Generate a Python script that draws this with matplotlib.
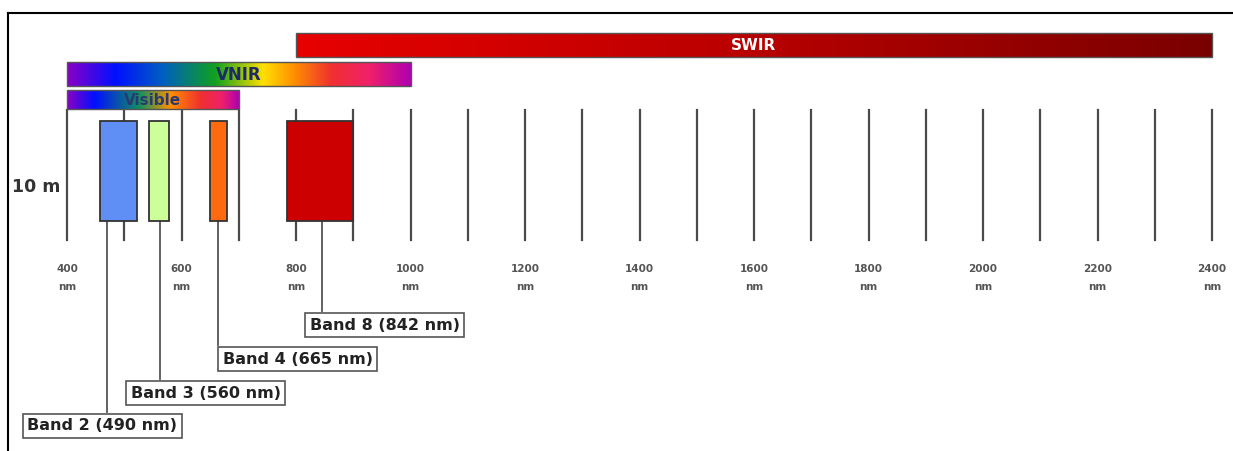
import numpy as np
import matplotlib.pyplot as plt
from matplotlib.colors import LinearSegmentedColormap
from matplotlib.patches import Rectangle
from matplotlib.lines import Line2D

# band data (nm)
band_names = ['Band 2', 'Band 3', 'Band 4', 'Band 8']
band_centers = [490, 560, 665, 842]
band_widths = [65, 35, 30, 115]
band_colors = ['#5f8ff5', '#ccff99', '#ff6a10', '#cc0000']
leader_nm = [470, 562, 664, 845]
label_left_nm = [323, 503, 664, 816]
label_top_px = [412, 379, 345, 311]

# spectral regions
regions = ['SWIR', 'VNIR', 'Visible']
region_start = [800, 400, 400]
region_end = [2400, 1000, 700]

grid_nm = np.arange(400, 2401, 100)
tick_nm = np.arange(400, 2401, 200)

W, H = 1233, 451
px_per_nm = 0.5725
xmin = 400 - 67 / px_per_nm
xmax = 400 + (W - 67) / px_per_nm

fig = plt.figure(figsize=(W / 100, H / 100), dpi=100)
ax = fig.add_axes([0, 0, 1, 1])
ax.axis('off')

# vertical wavelength lines
for g in grid_nm:
    ax.plot([g, g], [110, 240], color='#4a4a4a', lw=1.6, zorder=1)

for t in tick_nm:
    ax.text(t, 269, str(t), ha='center', va='center', fontsize=7.5, fontweight='bold', color='#555555')
    ax.text(t, 287, 'nm', ha='center', va='center', fontsize=7.5, fontweight='bold', color='#555555')

# gradient bars
cmaps = {
    'SWIR': LinearSegmentedColormap.from_list('swir', ['#e80000', '#b80000', '#7a0000']),
    'VNIR': LinearSegmentedColormap.from_list('vnir', [(0, '#8a00c8'), (0.14, '#0010ff'), (0.28, '#0060c0'),
                                                        (0.43, '#10a020'), (0.57, '#ffe000'), (0.66, '#ff9000'),
                                                        (0.77, '#f03030'), (0.88, '#f0206a'), (1, '#b000b0')]),
    'Visible': LinearSegmentedColormap.from_list('vis', [(0, '#8a00c8'), (0.16, '#0010ff'), (0.42, '#109060'),
                                                          (0.6, '#ff9000'), (0.78, '#f03030'), (0.9, '#f0206a'), (1, '#b000b0')]),
}
bar_px = {'SWIR': (33, 57), 'VNIR': (62, 86), 'Visible': (90, 109)}
text_style = {'SWIR': ('white', 11), 'VNIR': ('#1c2a66', 12), 'Visible': ('#2a3a70', 11)}

for name, s, e in zip(regions, region_start, region_end):
    y0, y1 = bar_px[name]
    ax.imshow(np.linspace(0, 1, 256)[None, :], extent=(s, e, y1, y0), cmap=cmaps[name],
              aspect='auto', zorder=2)
    ax.add_patch(Rectangle((s, y0), e - s, y1 - y0, fill=False, ec='#555555', lw=1.0, zorder=3))
    c, fs = text_style[name]
    ax.text((s + e) / 2, (y0 + y1) / 2 + 1, name, ha='center', va='center', fontsize=fs,
            fontweight='bold', color=c, zorder=4)

# band rectangles
for c, w, col in zip(band_centers, band_widths, band_colors):
    ax.add_patch(Rectangle((c - w / 2, 121), w, 100, fc=col, ec='#333333', lw=1.3, zorder=3))

# leader lines and labels
for name, c, lx, ll, lt in zip(band_names, band_centers, leader_nm, label_left_nm, label_top_px):
    ax.plot([lx, lx], [221, lt], color='#555555', lw=1.3, zorder=2)
    ax.text(ll + 8, lt + 14, f'{name} ({c} nm)', ha='left', va='center', fontsize=11.5,
            fontweight='bold', family='DejaVu Sans', color='#222222', zorder=4,
            bbox=dict(boxstyle='square,pad=0.28', fc='white', ec='#555555', lw=1.2))

ax.text(xmin + 12 / px_per_nm, 187, '10 m', ha='left', va='center', fontsize=12.5,
        fontweight='bold', color='#333333')

ax.set_xlim(xmin, xmax)
ax.set_ylim(H, 0)

# frame lines on top and left
fig.add_artist(Line2D([8 / W, 1], [1 - 13 / H, 1 - 13 / H], color='black', lw=1.5))
fig.add_artist(Line2D([8 / W, 8 / W], [0, 1 - 13 / H], color='black', lw=1.5))

fig.savefig('out.png', dpi=100)
